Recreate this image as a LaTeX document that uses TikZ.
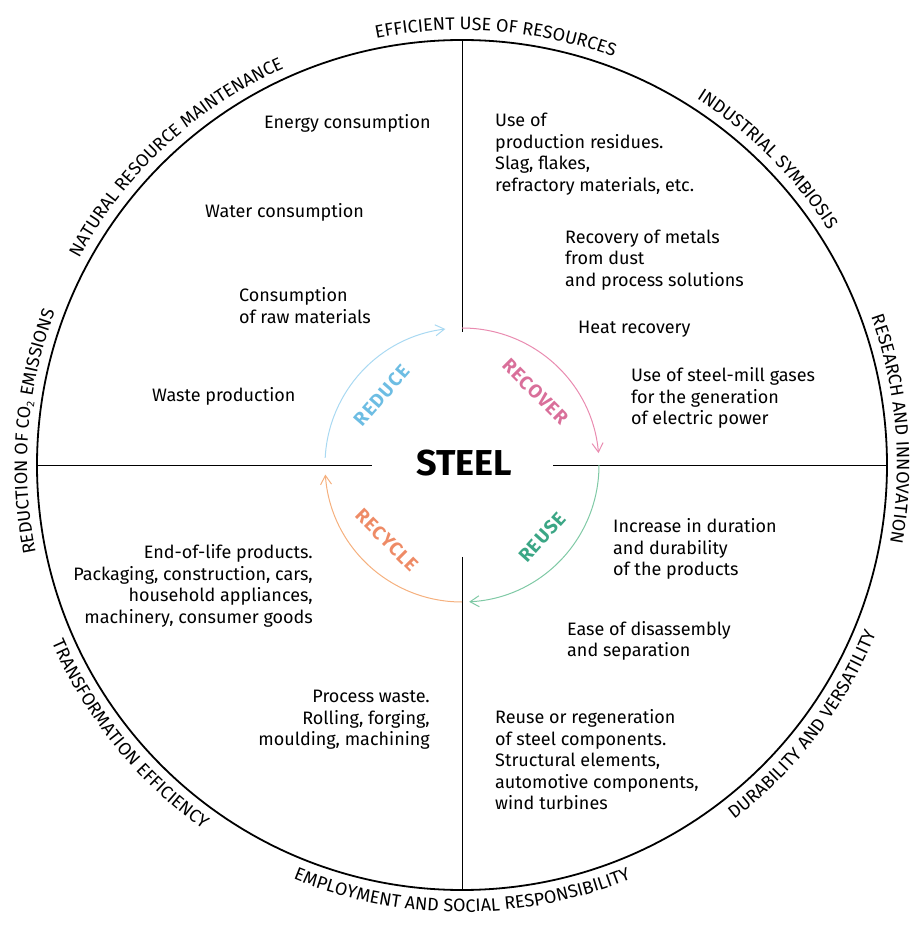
\documentclass[tikz,border=0pt]{standalone}
\usepackage{fontspec}
\setmainfont{Fira Sans}
\newfontfamily\arcfont[LetterSpace=6]{Fira Sans}
\usetikzlibrary{arrows.meta,decorations.text}
\newcommand\ringfont{\fontsize{18}{18}\selectfont}
\definecolor{reducetext}{HTML}{6DBDE3}
\definecolor{reducearc}{HTML}{A9D9F2}
\definecolor{recovertext}{HTML}{D96F9A}
\definecolor{recoverarc}{HTML}{E98BB0}
\definecolor{reusetext}{HTML}{3BA685}
\definecolor{reusearc}{HTML}{7FC9A5}
\definecolor{recycletext}{HTML}{EE8B66}
\definecolor{recyclearc}{HTML}{F5B07E}
\begin{document}
\begin{tikzpicture}[x=1pt,y=1pt,
  body/.style={inner sep=0pt, font=\fontsize{18}{21.5}\selectfont},
  lbody/.style={body, anchor=west, align=left},
  rbody/.style={body, anchor=east, align=right},
  ringarc/.style={line width=1pt, -{Straight Barb[length=9pt,width=11pt]}},
  arclabel/.style={font=\arcfont\bfseries\fontsize{19}{19}\selectfont, inner sep=0pt},
  crossline/.style={line width=0.9pt, black},
  cwtext/.style={decorate, decoration={text along path, text align=center, text={#1}}},
]
\useasboundingbox (-462,-460) rectangle (459,465);

% outer circle and cross
\draw[line width=1.8pt] (0,0) circle[radius=425];
\draw[crossline] (0,425) -- (0,133);
\draw[crossline] (0,-92) -- (0,-425);
\draw[crossline] (-425,0) -- (-90,0);
\draw[crossline] (91,0) -- (425,0);

% inner cycle arcs
\draw[ringarc, reducearc] (177:137) arc[start angle=177, end angle=97, radius=137];
\draw[ringarc, recoverarc] (90:137) arc[start angle=90, end angle=5, radius=137];
\draw[ringarc, reusearc] (0:137) arc[start angle=0, end angle=-87, radius=137];
\draw[ringarc, recyclearc] (-90:137) arc[start angle=-90, end angle=-176, radius=137];

\node[arclabel, text=reducetext, rotate=49] (reduce) at (139:106) {REDUCE};
\node[arclabel, text=recovertext, rotate=-45] (recover) at (45:104) {RECOVER};
\node[arclabel, text=reusetext, rotate=48] (reuse) at (-42:108) {REUSE};
\node[arclabel, text=recycletext, rotate=-45] (recycle) at (225:106) {RECYCLE};

\node[inner sep=0pt, font=\bfseries\fontsize{36}{36}\selectfont] (steel) at (2,2) {STEEL};

% upper left
\node[lbody] (energy) at (-198,342) {Energy consumption};
\node[lbody] (water) at (-257,253) {Water consumption};
\node[lbody] (raw) at (-223,159.5) {Consumption\\of raw materials};
\node[lbody] (waste) at (-310,69) {Waste production};
% upper right
\node[lbody] (residues) at (33,311) {Use of\\production residues.\\Slag, flakes,\\refractory materials, etc.};
\node[lbody] (metals) at (103,205) {Recovery of metals\\from dust\\and process solutions};
\node[lbody] (heat) at (116,136) {Heat recovery};
\node[lbody] (gases) at (169,67) {Use of steel-mill gases\\for the generation\\of electric power};
% lower left
\node[rbody] (eol) at (-149,-121) {End-of-life products.\\Packaging, construction, cars,\\household appliances,\\machinery, consumer goods};
\node[rbody] (process) at (-32,-255) {Process waste.\\Rolling, forging,\\moulding, machining};
% lower right
\node[lbody] (duration) at (151,-84) {Increase in duration\\and durability\\of the products};
\node[lbody] (ease) at (105,-176) {Ease of disassembly\\and separation};
\node[lbody] (regen) at (33,-295) {Reuse or regeneration\\of steel components.\\Structural elements,\\automotive components,\\wind turbines};

% ring labels, upper style (clockwise)
\path[cwtext={|\ringfont|EFFICIENT USE OF RESOURCES}] (125.5:435) arc[start angle=125.5, end angle=45.5, radius=435];
\path[cwtext={|\ringfont|INDUSTRIAL SYMBIOSIS}] (85:435) arc[start angle=85, end angle=5, radius=435];
\path[cwtext={|\ringfont|RESEARCH AND INNOVATION}] (44.8:435) arc[start angle=44.8, end angle=-35.2, radius=435];
\path[cwtext={|\ringfont|REDUCTION OF CO{\raisebox{-3pt}{\fontsize{11}{11}\selectfont 2}} EMISSIONS}] (215.5:435) arc[start angle=215.5, end angle=135.5, radius=435];
\path[cwtext={|\ringfont|NATURAL RESOURCE MAINTENANCE}] (172.9:435) arc[start angle=172.9, end angle=92.9, radius=435];
% ring labels, lower style (counter-clockwise)
\path[cwtext={|\ringfont|DURABILITY AND VERSATILITY}] (-77.3:447) arc[start angle=-77.3, end angle=2.7, radius=447];
\path[cwtext={|\ringfont|EMPLOYMENT AND SOCIAL RESPONSIBILITY}] (-135:447) arc[start angle=-135, end angle=-45, radius=447];
\path[cwtext={|\ringfont|TRANSFORMATION EFFICIENCY}] (179:447) arc[start angle=179, end angle=259, radius=447];
\end{tikzpicture}
\end{document}
